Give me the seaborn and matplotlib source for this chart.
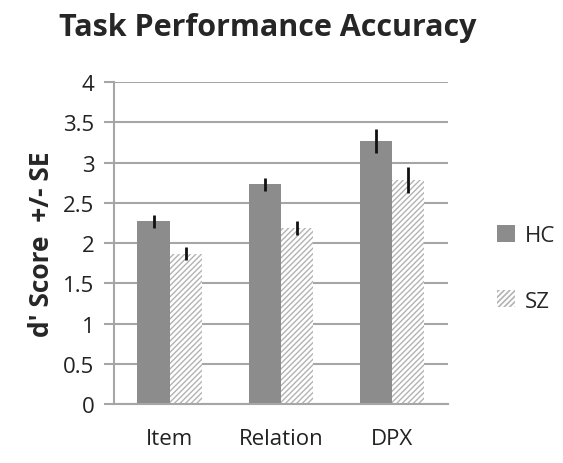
import numpy as np
import pandas as pd
import matplotlib
matplotlib.use("Agg")
import matplotlib.pyplot as plt
import seaborn as sns
from matplotlib.patches import Patch

# --- data ---
tasks = ["Item", "Relation", "DPX"]
groups = ["HC", "SZ"]
hc_scores = [2.27, 2.73, 3.27]
sz_scores = [1.87, 2.19, 2.78]
hc_se = [0.08, 0.08, 0.15]
sz_se = [0.08, 0.09, 0.16]

df = pd.DataFrame({
    "Task": tasks * 2,
    "Group": ["HC"] * 3 + ["SZ"] * 3,
    "Score": hc_scores + sz_scores,
    "SE": hc_se + sz_se,
})

sns.set_style("white")
plt.rcParams["font.family"] = ["Open Sans", "DejaVu Sans"]

fig = plt.figure(figsize=(5.63, 4.64), dpi=100)
ax = fig.add_axes([0.2025, 0.127, 0.593, 0.694])

grid_col = "#a6a6a6"
hc_col = "#8c8c8c"
sz_hatch_col = "#b3b3b3"

sns.barplot(data=df, x="Task", y="Score", hue="Group", hue_order=groups,
            palette=[hc_col, "white"], width=0.58, errorbar=None,
            saturation=1, linewidth=0, ax=ax, zorder=2, legend=False)

plt.rcParams["hatch.color"] = sz_hatch_col
plt.rcParams["hatch.linewidth"] = 1.2
bars = ax.patches
n = len(tasks)
for b in bars[n:2 * n]:
    b.set_hatch("//////")
    b.set_edgecolor(sz_hatch_col)
    b.set_linewidth(0)

# error bars at the bar tops
for b, se in zip(bars[:2 * n], hc_se + sz_se):
    xc = b.get_x() + b.get_width() / 2
    ax.errorbar(xc, b.get_height(), yerr=se, fmt="none", ecolor="#111111",
                elinewidth=2, capsize=0, zorder=3)

ax.set_ylim(0, 4)
ax.set_yticks(np.arange(0, 4.01, 0.5))
ax.set_yticklabels(["0", "0.5", "1", "1.5", "2", "2.5", "3", "3.5", "4"])
ax.set_xlim(-0.5, 2.5)
ax.yaxis.grid(True, color=grid_col, linewidth=1.5, zorder=0)
ax.set_axisbelow(True)

for s in ["top", "right"]:
    ax.spines[s].set_visible(False)
for s in ["left", "bottom"]:
    ax.spines[s].set_color(grid_col)
    ax.spines[s].set_linewidth(1.5)

ax.tick_params(axis="y", which="both", left=True, length=7, width=1.5,
               color=grid_col, labelsize=16, labelcolor="#222222", pad=7)
ax.tick_params(axis="x", bottom=False, labelsize=16, labelcolor="#222222", pad=14)

ax.set_xlabel("")
ax.set_ylabel("d' Score  +/- SE", fontsize=19, fontweight="bold", labelpad=6)
fig.text(0.475, 0.94, "Task Performance Accuracy", fontsize=22,
         fontweight="bold", ha="center", va="center")

handles = [Patch(facecolor=hc_col, edgecolor="none"),
           Patch(facecolor="white", edgecolor=sz_hatch_col, hatch="//////", linewidth=0)]
fig.legend(handles, groups, loc="center left", bbox_to_anchor=(0.855, 0.42),
           frameon=False, fontsize=16, handlelength=0.8, handleheight=0.8,
           labelspacing=2.0, handletextpad=0.45, borderpad=0.2)

fig.savefig("out.png", dpi=100)
